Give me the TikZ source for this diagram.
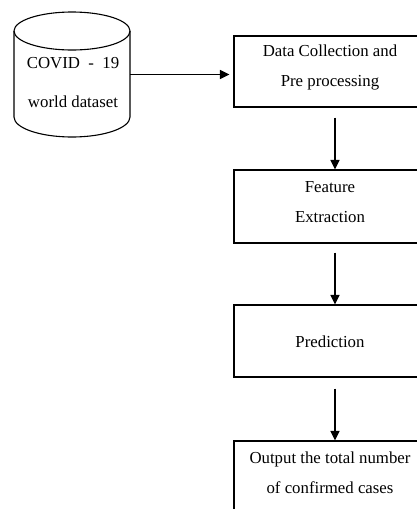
\documentclass[tikz,border=0pt]{standalone}
\usepackage{fontspec}
\setmainfont{Liberation Serif}
\usetikzlibrary{arrows.meta,calc}
\tikzset{
  line/.style={draw=black, line width=1.1pt},
  box/.style={line, rectangle, minimum width=196pt, minimum height=71pt, inner sep=0pt},
  txt/.style={font=\fontsize{16.8}{30}\selectfont, align=center, inner sep=0pt},
  arr/.style={draw=black, line width=1.3pt, -{Triangle[length=9.5pt,width=9pt]}}
}
\begin{document}
\begin{tikzpicture}[x=1pt,y=-1pt]
\useasboundingbox (0,0) rectangle (417,509);
\clip (0,0) rectangle (417,509);
\fill[white] (0,0) rectangle (417,509);
% cylinder
\draw[line] (72,31) ellipse [x radius=58, y radius=19];
\draw[line] (14,31) -- (14,117) arc[start angle=180, end angle=0, x radius=58, y radius=20] -- (130,31);
\node[inner sep=0pt, minimum width=116pt, minimum height=125pt] (db) at (72,74.5) {};
\node[txt] at (73,63) {COVID~~-~~19};
\node[txt] at (73,102) {world dataset};
% boxes
\node[box] (b1) at (332,71.5) {};
\node[txt] at (330,67) {Data Collection and\\Pre processing};
\node[box, minimum height=73pt] (b2) at (332,206.5) {};
\node[txt] at (330,202.5) {Feature\\Extraction};
\node[box, minimum height=72pt] (b3) at (332,341) {};
\node[txt] at (330,342) {Prediction};
\node[box, minimum height=72pt] (b4) at (332,477) {};
\node[txt] at (330,472.5) {Output the total number\\of confirmed cases};
% arrows
\draw[arr] (db.east) -- ([xshift=-4pt]db.east -| b1.west);
\draw[arr, shorten <=10pt] ([xshift=3pt]b1.south) -- ([xshift=3pt]b2.north);
\draw[arr, shorten <=9pt] ([xshift=3pt]b2.south) -- ([xshift=3pt]b3.north);
\draw[arr, shorten <=11pt] ([xshift=3pt]b3.south) -- ([xshift=3pt]b4.north);
\end{tikzpicture}
\end{document}
